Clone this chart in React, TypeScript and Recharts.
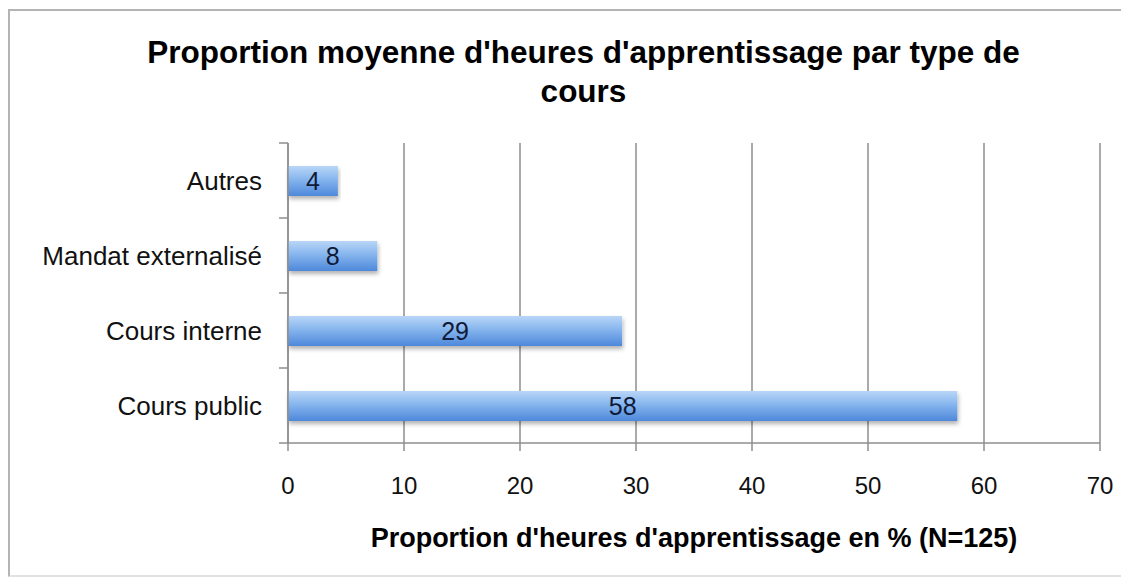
import React from "react";
import {
  ComposedChart,
  Bar,
  XAxis,
  YAxis,
  CartesianGrid,
  LabelList,
} from "recharts";

const categories = ["Autres", "Mandat externalisé", "Cours interne", "Cours public"];
const values = [4.3, 7.7, 28.8, 57.7];
const labels = ["4", "8", "29", "58"];
const xTicks = [0, 10, 20, 30, 40, 50, 60, 70];

const data = categories.map((name, i) => ({ name, value: values[i], label: labels[i] }));

const FONT = '"Liberation Sans", Arial, Helvetica, sans-serif';
const W = 1121;
const H = 572;
const MARGIN = { top: 135, right: 29, bottom: 87, left: 0 };
const X_AXIS_H = 50;
const PLOT_H = H - MARGIN.top - MARGIN.bottom - X_AXIS_H;
const BAND = PLOT_H / categories.length;
const Y_TICK_SIZE = 6;
const Y_TICK_MARGIN = 20;
const GRID = "#8e8e8e";

function CatTick(props: any) {
  const { x, y, payload, index } = props;
  const axisX = x + Y_TICK_SIZE + Y_TICK_MARGIN;
  const half = BAND / 2;
  return (
    <g>
      <text
        x={x}
        y={y}
        dy="0.355em"
        textAnchor="end"
        fill="#111"
        fontSize={26}
        fontFamily={FONT}
      >
        {payload.value}
      </text>
      <line x1={axisX - 9} x2={axisX} y1={y - half} y2={y - half} stroke={GRID} strokeWidth={1.5} />
      {index === categories.length - 1 && (
        <line x1={axisX - 9} x2={axisX} y1={y + half} y2={y + half} stroke={GRID} strokeWidth={1.5} />
      )}
    </g>
  );
}

export default function App() {
  return (
    <div style={{ position: "relative", width: W, height: H, fontFamily: FONT, overflow: "hidden" }}>
      <div
        style={{
          position: "absolute",
          left: 0,
          top: 1,
          width: W + 20,
          height: 568,
          border: "2px solid #b4b4b4",
          borderBottomColor: "#e2e2e2",
          boxSizing: "border-box",
        }}
      />
      <div
        style={{
          position: "absolute",
          left: 0,
          top: 25,
          width: W,
          paddingLeft: 30,
          boxSizing: "border-box",
          textAlign: "center",
          fontWeight: "bold",
          fontSize: 31.5,
          lineHeight: "39px",
          color: "#000",
        }}
      >
        Proportion moyenne d'heures d'apprentissage par type de
        <br />
        cours
      </div>
      <ComposedChart
        width={W}
        height={H}
        layout="vertical"
        data={data}
        margin={MARGIN}
        style={{ position: "absolute", left: 0, top: 0 }}
      >
        <defs>
          <linearGradient id="barGrad" x1="0" y1="0" x2="0" y2="1">
            <stop offset="0%" stopColor="#b9d6f7" />
            <stop offset="45%" stopColor="#86b5ee" />
            <stop offset="100%" stopColor="#4d88da" />
          </linearGradient>
          <filter id="barShadow" x="-5%" y="-20%" width="110%" height="160%">
            <feDropShadow dx="1" dy="3" stdDeviation="2" floodColor="#000" floodOpacity="0.3" />
          </filter>
        </defs>
        <CartesianGrid horizontal={false} stroke={GRID} strokeWidth={1.5} />
        <XAxis
          type="number"
          domain={[0, 70]}
          ticks={xTicks}
          interval={0}
          height={X_AXIS_H}
          tickSize={8}
          tickMargin={26}
          axisLine={{ stroke: GRID, strokeWidth: 1.5 }}
          tickLine={{ stroke: GRID, strokeWidth: 1.5 }}
          tick={{ fill: "#111", fontSize: 24, fontFamily: FONT }}
        />
        <YAxis
          type="category"
          dataKey="name"
          width={280}
          tickLine={false}
          tickSize={Y_TICK_SIZE}
          tickMargin={Y_TICK_MARGIN}
          interval={0}
          axisLine={{ stroke: GRID, strokeWidth: 1.5 }}
          tick={<CatTick />}
        />
        <Bar
          dataKey="value"
          barSize={30}
          fill="url(#barGrad)"
          filter="url(#barShadow)"
          isAnimationActive={false}
        >
          <LabelList
            dataKey="label"
            position="center"
            fill="#0f1a38"
            fontSize={25}
            fontFamily={FONT}
          />
        </Bar>
      </ComposedChart>
      <div
        style={{
          position: "absolute",
          left: 280,
          top: 515,
          width: 812,
          textAlign: "center",
          fontWeight: "bold",
          fontSize: 27,
          lineHeight: "31px",
          color: "#000",
        }}
      >
        Proportion d'heures d'apprentissage en % (N=125)
      </div>
    </div>
  );
}
